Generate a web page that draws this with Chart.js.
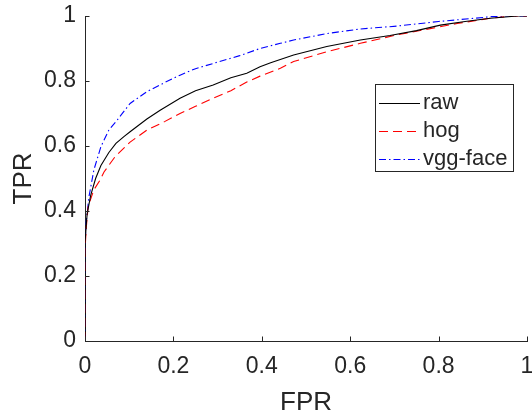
<!DOCTYPE html>
<html>
<head>
<meta charset="utf-8">
<script src="https://cdn.jsdelivr.net/npm/chart.js@4/dist/chart.umd.min.js"></script>
<style>
  html, body { margin: 0; padding: 0; background: #fff; }
  #wrap { width: 532px; height: 418px; }
</style>
</head>
<body>
<div id="wrap"><canvas id="rocChart" width="532" height="418"></canvas></div>
<script>
// ROC 曲线数据
const fprRaw = [0, 0, 0.003, 0.005, 0.013, 0.024, 0.036, 0.054, 0.07, 0.088, 0.102, 0.14, 0.17, 0.215, 0.25, 0.29, 0.33, 0.366, 0.396, 0.42, 0.472, 0.547, 0.623, 0.69, 0.75, 0.804, 0.86, 0.917, 0.978, 1];
const tprRaw = [0, 0.30, 0.36, 0.393, 0.449, 0.50, 0.54, 0.58, 0.608, 0.629, 0.644, 0.683, 0.71, 0.747, 0.77, 0.788, 0.81, 0.824, 0.844, 0.856, 0.88, 0.906, 0.926, 0.94, 0.955, 0.972, 0.983, 0.993, 1, 1];

const fprHog = [0, 0, 0.003, 0.007, 0.02, 0.034, 0.043, 0.068, 0.102, 0.14, 0.18, 0.215, 0.25, 0.29, 0.33, 0.366, 0.396, 0.442, 0.472, 0.547, 0.623, 0.706, 0.765, 0.842, 0.917, 0.97, 1];
const tprHog = [0, 0.28, 0.35, 0.413, 0.465, 0.495, 0.52, 0.567, 0.612, 0.649, 0.675, 0.70, 0.722, 0.747, 0.77, 0.797, 0.815, 0.839, 0.86, 0.89, 0.916, 0.942, 0.957, 0.977, 0.993, 1, 1];

const fprVgg = [0, 0, 0.003, 0.009, 0.02, 0.036, 0.054, 0.073, 0.102, 0.14, 0.18, 0.215, 0.25, 0.29, 0.35, 0.396, 0.442, 0.472, 0.547, 0.623, 0.706, 0.8, 0.92, 0.95, 1];
const tprVgg = [0, 0.30, 0.37, 0.444, 0.526, 0.598, 0.649, 0.68, 0.731, 0.767, 0.795, 0.818, 0.838, 0.854, 0.878, 0.90, 0.916, 0.926, 0.946, 0.96, 0.969, 0.983, 0.998, 1, 1];

const seriesLabels = ['raw', 'hog', 'vgg-face'];
const tickValues = [0, 0.2, 0.4, 0.6, 0.8, 1];
const tickLabels = ['0', '0.2', '0.4', '0.6', '0.8', '1'];

const textColor = '#262626';
const FONT = '"Liberation Sans", Arial, sans-serif';

const toPoints = (xs, ys) => xs.map((x, i) => ({ x: x, y: ys[i] }));

// 向内的刻度线 + 图例框
const matlabAxes = {
    id: 'matlabAxes',
    afterDraw(chart) {
        const ctx = chart.ctx;
        const area = chart.chartArea;
        const xs = chart.scales.x;
        const ys = chart.scales.y;
        ctx.save();
        ctx.strokeStyle = textColor;
        ctx.lineWidth = 1;
        ctx.beginPath();
        tickValues.forEach(v => {
            const px = Math.round(xs.getPixelForValue(v)) + 0.5;
            ctx.moveTo(px, area.bottom);
            ctx.lineTo(px, area.bottom - 4.5);
            const py = Math.round(ys.getPixelForValue(v)) + 0.5;
            ctx.moveTo(area.left, py);
            ctx.lineTo(area.left + 4.5, py);
        });
        ctx.stroke();

        // 图例
        const bx = 375.5, by = 84.5, bw = 138, bh = 87;
        ctx.fillStyle = '#fff';
        ctx.fillRect(bx, by, bw, bh);
        ctx.strokeStyle = textColor;
        ctx.strokeRect(bx, by, bw, bh);
        const rowY = [103, 131, 159];
        ctx.font = '22px ' + FONT;
        ctx.textBaseline = 'middle';
        chart.data.datasets.forEach((ds, i) => {
            ctx.beginPath();
            ctx.strokeStyle = ds.borderColor;
            ctx.lineWidth = 1.2;
            ctx.setLineDash(ds.borderDash || []);
            ctx.moveTo(379, rowY[i] + 0.5);
            ctx.lineTo(420, rowY[i] + 0.5);
            ctx.stroke();
            ctx.setLineDash([]);
            ctx.fillStyle = textColor;
            ctx.fillText(ds.label, 423, rowY[i]);
        });
        ctx.restore();
    }
};

const ctx = document.getElementById('rocChart').getContext('2d');
new Chart(ctx, {
    type: 'line',
    data: {
        datasets: [{
            label: seriesLabels[0],
            data: toPoints(fprRaw, tprRaw),
            borderColor: '#000000',
            borderWidth: 1.1
        }, {
            label: seriesLabels[1],
            data: toPoints(fprHog, tprHog),
            borderColor: '#ff0000',
            borderWidth: 1.1,
            borderDash: [9, 5]
        }, {
            label: seriesLabels[2],
            data: toPoints(fprVgg, tprVgg),
            borderColor: '#0000ff',
            borderWidth: 1.1,
            borderDash: [7, 3, 1.5, 3]
        }]
    },
    options: {
        responsive: false,
        animation: false,
        layout: { padding: { top: 16, right: 5, left: 0, bottom: 0 } },
        elements: {
            point: { radius: 0 },
            line: { tension: 0 }
        },
        scales: {
            x: {
                type: 'linear',
                min: 0,
                max: 1,
                afterFit: s => {
                    s.height = 77;
                    s.paddingLeft = 0;
                    s.paddingRight = 0;
                },
                afterBuildTicks: s => { s.ticks = tickValues.map(v => ({ value: v })); },
                grid: { display: false, drawTicks: false },
                border: { display: true, color: textColor, width: 1 },
                ticks: {
                    color: textColor,
                    font: { family: FONT, size: 23 },
                    padding: 12,
                    maxRotation: 0,
                    autoSkip: false,
                    callback: (v, i) => tickLabels[i]
                },
                title: {
                    display: true,
                    text: 'FPR',
                    color: textColor,
                    font: { family: FONT, size: 26 },
                    padding: { top: 0, bottom: 0 }
                }
            },
            y: {
                type: 'linear',
                min: 0,
                max: 1,
                afterFit: s => {
                    s.width = 85;
                    s.paddingTop = 0;
                    s.paddingBottom = 0;
                },
                afterBuildTicks: s => { s.ticks = tickValues.map(v => ({ value: v })); },
                grid: { display: false, drawTicks: false },
                border: { display: true, color: textColor, width: 1 },
                ticks: {
                    color: textColor,
                    font: { family: FONT, size: 23 },
                    padding: 9,
                    autoSkip: false,
                    callback: (v, i) => tickLabels[i]
                },
                title: {
                    display: true,
                    text: 'TPR',
                    color: textColor,
                    font: { family: FONT, size: 26 },
                    padding: { top: 8, bottom: 0 }
                }
            }
        },
        plugins: {
            legend: { display: false },
            tooltip: { enabled: false }
        }
    },
    plugins: [matlabAxes]
});
</script>
</body>
</html>
